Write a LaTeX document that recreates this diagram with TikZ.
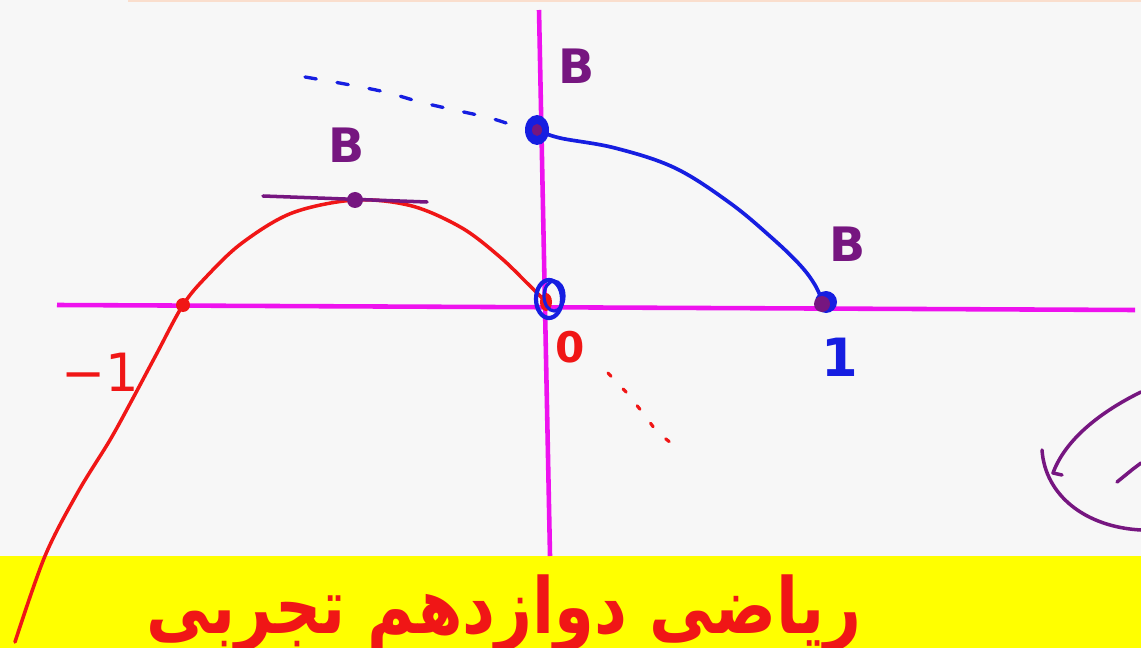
\documentclass[tikz,border=0pt]{standalone}
\usepackage{fontspec}
\setmainfont{DejaVu Sans}
\newfontfamily\arabicfont[Script=Arabic]{DejaVu Sans}
\TeXXeTstate=1
\usetikzlibrary{positioning}

\definecolor{fondo}{RGB}{247,247,247}
\definecolor{durazno}{RGB}{250,222,205}
\definecolor{fucsia}{RGB}{238,18,238}
\definecolor{rojo}{RGB}{240,22,22}
\definecolor{azul}{RGB}{22,30,225}
\definecolor{morado}{RGB}{118,22,128}
\definecolor{amarillo}{RGB}{255,255,0}

\begin{document}
\begin{tikzpicture}[
        x=0.02cm, y=-0.02cm,
        eje/.style={draw=fucsia, line width=2.6pt},
        curvaroja/.style={draw=rojo, line width=2pt, line cap=round, line join=round},
        curvaazul/.style={draw=azul, line width=2.1pt, line cap=round, line join=round},
        trazo/.style={draw=morado, line width=2pt, line cap=round, line join=round},
        letrab/.style={text=morado, inner sep=0pt, font=\fontsize{27}{27}\selectfont\bfseries},
        numero/.style={inner sep=0pt, font=\fontsize{30}{30}\selectfont}
    ]
        \useasboundingbox (0,0) rectangle (1141,648);
        \clip (0,0) rectangle (1141,648);
        \fill[fondo] (0,0) rectangle (1141,648);
        \draw[durazno, line width=0.6pt] (128,1) -- (1141,1);

        % banda inferior
        \fill[amarillo] (0,556) rectangle (1141,648);
        \node[anchor=base, inner sep=0pt, text=rojo, font=\fontsize{44}{44}\selectfont] (titulo) at (504,633) {\scalebox{0.83}[1]{\arabicfont\bfseries\beginR ریاضی دوازدهم تجربی\endR}};

        % ejes
        \coordinate (xizq) at (57,305);
        \coordinate (xder) at (1135,310);
        \coordinate (yarr) at (539,10);
        \coordinate (yaba) at (550,556);
        \draw[eje] (xizq) -- (xder);
        \draw[eje] (yarr) -- (yaba);

        % puntos clave
        \coordinate (menosuno) at (183,305);
        \coordinate (cima) at (355,200);
        \coordinate (origen) at (546,302);
        \coordinate (bsup) at (537,130);
        \coordinate (uno) at (823,303);
        \coordinate (tizq) at (263,196);
        \coordinate (tder) at (427,202);

        % curvas
        \draw[curvaroja] plot[smooth, tension=0.55] coordinates {(15,642) (45,556) (78,492) (110,440) (132,400) (156,355) (menosuno) (207,276) (242,243) (292,213) (cima) (412,206) (462,228) (500,257) (527,283) (origen)};
        \draw[curvaazul] plot[smooth, tension=0.6] coordinates {(bsup) (560,138) (615,148) (675,168) (730,203) (772,238) (800,265) (815,285) (uno)};
        \draw[curvaazul, line width=1.9pt, dash pattern=on 6.5pt off 12pt] plot[smooth] coordinates {(305,77) (345,84) (385,92) (420,102) (450,109) (490,118) (521,128)};
        \draw[rojo, line width=1.8pt, line cap=round, dash pattern=on 2.5pt off 10pt] (608,373) -- (626,392) -- (643,413) -- (657,432) -- (671,443);
        \draw[trazo] (tizq) -- (tder);

        % marcas
        \fill[rojo] (menosuno) circle[radius=7];
        \fill[morado] (cima) circle[radius=8];
        \fill[azul] (bsup) ellipse[x radius=12, y radius=15];
        \fill[morado] (bsup) ellipse[x radius=5, y radius=6];
        \fill[azul] (826,302) circle[radius=11];
        \fill[morado] (822,304) circle[radius=8];
        \fill[rojo] (origen) ellipse[x radius=6, y radius=9];
        \draw[azul, line width=2.4pt] (549,299) ellipse[x radius=13, y radius=19];
        \draw[azul, line width=1.8pt] (554,296) ellipse[x radius=10, y radius=15];

        % etiquetas
        \node[letrab] (bsupl) at (577,66) {B};
        \node[letrab] (bcima) at (347,145) {B};
        \node[letrab] (bunol) at (848,244) {B};
        \node[numero, text=azul, font=\fontsize{30}{30}\selectfont\bfseries] (luno) at (840,357) {1};
        \node[numero, text=rojo] (lmenos) at (100,372) {−1};
        \node[numero, text=rojo, font=\fontsize{24}{24}\selectfont\bfseries] (lcero) at (570,347) {0};

        % trazo a la derecha
        \draw[trazo] (1042,450) .. controls (1045,495) and (1085,527) .. (1141,530);
        \draw[trazo] (1141,392) .. controls (1100,412) and (1065,440) .. (1053,473) -- (1062,475);
        \draw[trazo] (1117,482) -- (1133,469) -- (1141,463);
    \end{tikzpicture}
\end{document}
